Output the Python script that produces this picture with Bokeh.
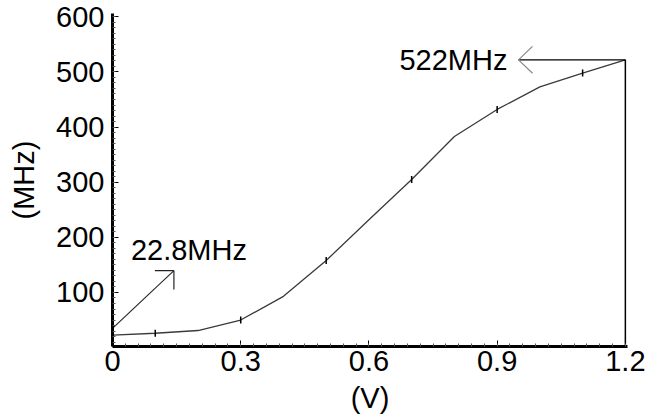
import numpy as np
from bokeh.plotting import figure
from bokeh.models import Range1d, FixedTicker, Label
from bokeh.embed import file_html
from bokeh.resources import INLINE

# ---- data ----
voltage = [0.0, 0.1, 0.2, 0.3, 0.4, 0.5, 0.6, 0.7, 0.8, 0.9, 1.0, 1.1, 1.2]
freq_mhz = [22.8, 26, 31, 50, 93, 158, 232, 305, 383, 432, 473, 498, 522]
marker_v = [0.1, 0.3, 0.5, 0.7, 0.9, 1.1]
marker_f = [26, 50, 158, 305, 432, 498]
x_ticks = [0.0, 0.3, 0.6, 0.9, 1.2]
x_tick_labels = ["0", "0.3", "0.6", "0.9", "1.2"]
y_ticks = [100, 200, 300, 400, 500, 600]
y_tick_labels = ["100", "200", "300", "400", "500", "600"]
min_label = "22.8MHz"
max_label = "522MHz"

FONT = "Liberation Sans"
FS = "29px"

x0, x1 = 0.0, 1.205
y0, y1 = 2, 606

p = figure(width=664, height=416, x_range=Range1d(x0, x1), y_range=Range1d(y0, y1),
           output_backend="svg", toolbar_location=None,
           min_border_left=112, min_border_right=37, min_border_top=13, min_border_bottom=68)
p.outline_line_color = None
p.xgrid.visible = False
p.ygrid.visible = False
p.background_fill_color = "white"
p.border_fill_color = "white"

# axes
for ax in (p.xaxis[0], p.yaxis[0]):
    ax.axis_line_width = 3
    ax.axis_line_color = "black"
    ax.major_tick_out = 0
    ax.major_tick_in = 6
    ax.minor_tick_out = 0
    ax.minor_tick_in = 3
    ax.major_tick_line_color = "black"
    ax.minor_tick_line_color = "#555555"
    ax.major_label_text_font = FONT
    ax.major_label_text_font_size = FS
    ax.major_label_text_color = "black"
    ax.axis_label_text_font = FONT
    ax.axis_label_text_font_size = FS
    ax.axis_label_text_font_style = "normal"
    ax.axis_label_text_color = "black"

p.xaxis[0].ticker = FixedTicker(ticks=x_ticks, minor_ticks=[round(i * 0.03, 2) for i in range(41)])
p.xaxis[0].major_label_overrides = {t: l for t, l in zip(x_ticks, x_tick_labels)}
p.xaxis[0].major_label_standoff = 4
p.xaxis[0].axis_label = "(V)"
p.xaxis[0].axis_label_standoff = 8
p.yaxis[0].ticker = FixedTicker(ticks=y_ticks, minor_ticks=list(range(0, 601, 10)))
p.yaxis[0].major_label_overrides = {t: l for t, l in zip(y_ticks, y_tick_labels)}
p.yaxis[0].major_label_standoff = 8
p.yaxis[0].axis_label = "(MHz)"
p.yaxis[0].axis_label_standoff = 13

# curve
p.line(voltage, freq_mhz, line_color="#3a3a3a", line_width=1.3)
p.scatter(marker_v, marker_f, marker="dash", angle=np.pi / 2, size=7,
          line_color="black", line_width=1.5)

# scale helpers (pixels -> data units) for the annotation arrows
px_x = 515 / (x1 - x0)
px_y = 335 / (y1 - y0)

# 522 MHz marker: vertical drop + horizontal arrow pointing left
f_max = freq_mhz[-1]
v_max = voltage[-1]
p.segment(x0=[v_max], y0=[y0], x1=[v_max], y1=[f_max], line_color="black", line_width=1.5)
tip_x = 0.95
p.segment(x0=[v_max], y0=[f_max], x1=[tip_x], y1=[f_max], line_color="black", line_width=1.2)
arm_dx = 14 / px_x
arm_dy = 13.5 / px_y
p.segment(x0=[tip_x, tip_x], y0=[f_max, f_max], x1=[tip_x + arm_dx, tip_x + arm_dx],
          y1=[f_max + arm_dy, f_max - arm_dy], line_color="#888888", line_width=1.2)
p.add_layout(Label(x=0.924, y=522, text=max_label, text_align="right",
                   text_baseline="alphabetic", text_font=FONT, text_font_size=FS,
                   text_color="black"))

# 22.8 MHz marker: diagonal arrow from the y axis
a_x0, a_y0 = 0.0, 35
a_x1, a_y1 = 0.1437, 139.6
p.segment(x0=[a_x0], y0=[a_y0], x1=[a_x1], y1=[a_y1], line_color="#222222", line_width=1.1)
h_dx = 19 / px_x
h_dy = 19 / px_y
p.segment(x0=[a_x1, a_x1], y0=[a_y1, a_y1], x1=[a_x1 - h_dx, a_x1], y1=[a_y1, a_y1 - h_dy],
          line_color="#222222", line_width=1.2)
p.add_layout(Label(x=0.043, y=177, text=min_label, text_align="left",
                   text_baseline="alphabetic", text_font=FONT, text_font_size=FS,
                   text_color="black"))

open("out.html", "w").write(file_html(p, INLINE))
